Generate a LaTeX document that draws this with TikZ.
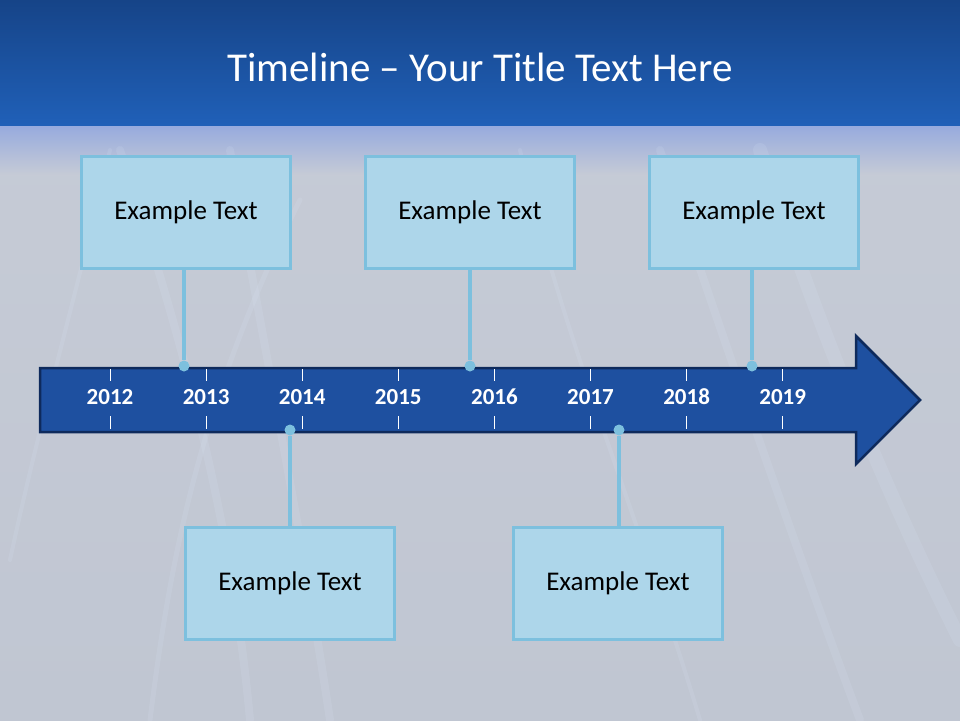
\documentclass[tikz,border=0pt]{standalone}
\usepackage{fontspec}
\setmainfont{Carlito}
\usetikzlibrary{positioning}

\definecolor{bartop}{RGB}{22,68,136}
\definecolor{barbot}{RGB}{32,96,184}
\definecolor{haze}{RGB}{150,170,222}
\definecolor{ground}{RGB}{198,203,214}
\definecolor{groundlow}{RGB}{192,198,210}
\definecolor{arrowfill}{RGB}{30,80,160}
\definecolor{arrowline}{RGB}{14,42,92}
\definecolor{boxfill}{RGB}{173,214,234}
\definecolor{boxline}{RGB}{125,192,222}
\definecolor{glow}{RGB}{225,238,255}

\begin{document}
\begin{tikzpicture}[x=1pt,y=-1pt]
    \tikzstyle{event} = [rectangle, minimum width=209pt, minimum height=112pt, draw=boxline, line width=3pt, fill=boxfill, font=\fontsize{27}{32}\selectfont]
    \tikzstyle{year} = [text=white, font=\bfseries\fontsize{23}{27}\selectfont]
    \tikzstyle{pin} = [circle, fill=boxline, inner sep=0pt, minimum size=11pt]
    \tikzstyle{stem} = [draw=boxline, line width=3.5pt]
    \tikzstyle{tick} = [draw=white, line width=1pt]
    \tikzstyle{streak} = [draw=glow, line width=8pt, opacity=0.12, line cap=round]

    \useasboundingbox (0,0) rectangle (960,720);

    % background
    \shade[top color=ground, bottom color=groundlow] (0,125) rectangle (960,720);
    \shade[top color=haze, bottom color=ground] (0,125) rectangle (960,175);
    \draw[streak] (250,720) .. controls (230,500) and (170,300) .. (120,150);
    \draw[streak] (330,720) .. controls (300,520) and (260,330) .. (230,150);
    \draw[streak, line width=4pt] (10,560) .. controls (40,420) and (80,280) .. (110,150);
    \draw[streak] (860,720) .. controls (800,560) and (720,330) .. (660,150);
    \draw[streak, line width=14pt] (960,640) .. controls (880,480) and (820,330) .. (760,150);
    \draw[streak, line width=4pt] (700,720) .. controls (640,520) and (560,330) .. (520,150);
    \draw[streak, line width=5pt] (150,720) .. controls (170,560) and (200,400) .. (300,200);

    % title bar
    \shade[top color=bartop, bottom color=barbot] (0,0) rectangle (960,125);
    \node (title) at (480,67) [text=white, font=\fontsize{41}{48}\selectfont] {Timeline -- Your Title Text Here};

    % arrow
    \draw[fill=arrowfill, draw=arrowline, line width=2.5pt, line join=miter]
        (40,368) -- (856,368) -- (856,336) -- (920,400) -- (856,464) -- (856,432) -- (40,432) -- cycle;
    \foreach \yr [count=\i] in {2012,2013,2014,2015,2016,2017,2018,2019} {
        \node (y\yr) at ({110+96.1*(\i-1)},397) [year] {\yr};
        \draw[tick] ({110+96.1*(\i-1)},369) -- ({110+96.1*(\i-1)},381);
        \draw[tick] ({110+96.1*(\i-1)},416) -- ({110+96.1*(\i-1)},429);
    }

    % events
    \node (e1) at (186,212) [event] {Example Text};
    \node (e2) at (470,212) [event] {Example Text};
    \node (e3) at (754,212) [event] {Example Text};
    \node (e4) at (290,583) [event] {Example Text};
    \node (e5) at (618,583) [event] {Example Text};

    \node (p1) at (184,366) [pin] {};
    \node (p2) at (470,366) [pin] {};
    \node (p3) at (752,366) [pin] {};
    \node (p4) at (290,430) [pin] {};
    \node (p5) at (619,430) [pin] {};

    \draw[stem] (p1) -- (p1 |- e1.south);
    \draw[stem] (p2) -- (e2);
    \draw[stem] (p3) -- (p3 |- e3.south);
    \draw[stem] (p4) -- (e4);
    \draw[stem] (p5) -- (p5 |- e5.north);
\end{tikzpicture}
\end{document}
